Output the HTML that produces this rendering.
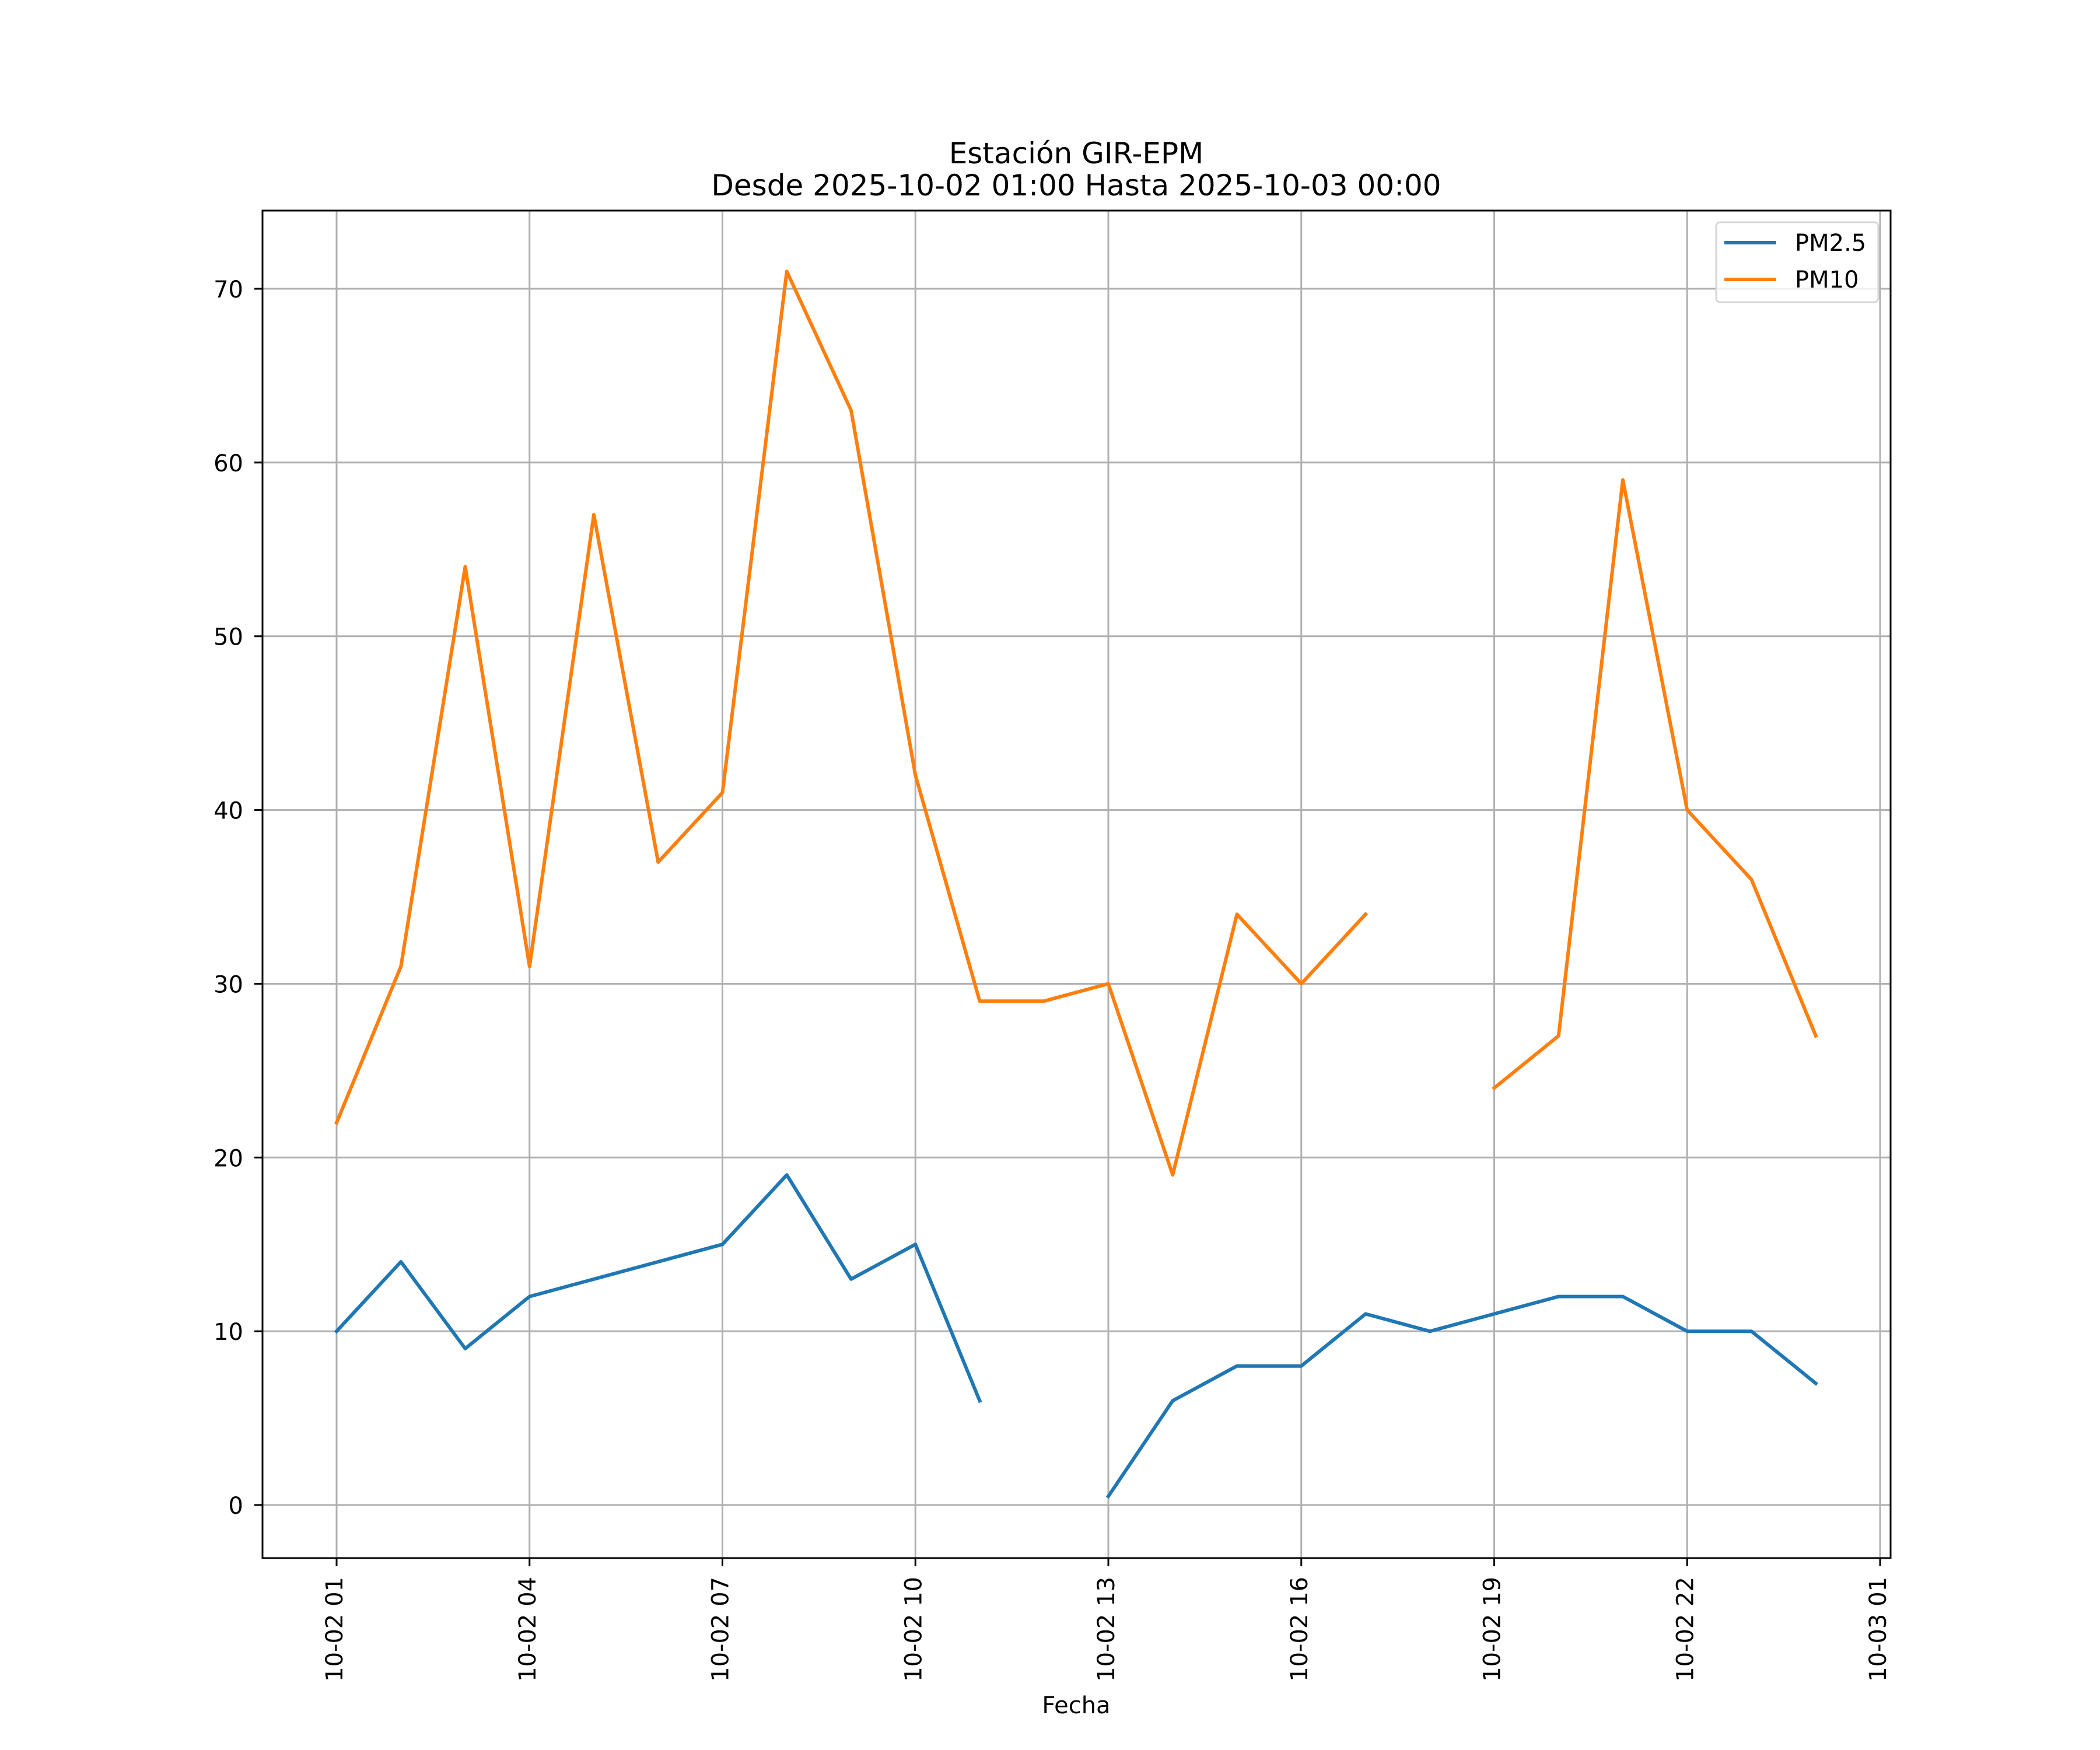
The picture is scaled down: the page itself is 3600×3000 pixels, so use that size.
<!DOCTYPE html>
<html><head><meta charset="utf-8"><style>
html,body{margin:0;padding:0;background:#fff;}
svg{display:block;font-family:"DejaVu Sans","Liberation Sans",sans-serif;}
</style></head><body>
<svg id="chart" width="3600" height="3000" viewBox="0 0 3600 3000" xmlns="http://www.w3.org/2000/svg">
<rect width="3600" height="3000" fill="#fff"/>
<text x="1845" y="280" font-size="50" text-anchor="middle">Estación GIR-EPM</text>
<text x="1845" y="335" font-size="50" text-anchor="middle">Desde 2025-10-02 01:00 Hasta 2025-10-03 00:00</text>
<g id="grid"></g><g id="series"></g><g id="axes"></g>
<text x="1845" y="2937" font-size="40" text-anchor="middle">Fecha</text>
<g>
<rect x="2942" y="381" width="278" height="137" fill="#fff" fill-opacity="0.8" stroke="#d6d6d6" stroke-width="3" rx="7"/>
<line x1="2956" y1="416" x2="3045" y2="416" stroke="#1f77b4" stroke-width="6"/>
<text x="3077" y="430" font-size="40">PM2.5</text>
<line x1="2956" y1="479" x2="3045" y2="479" stroke="#ff7f0e" stroke-width="6"/>
<text x="3077" y="493" font-size="40">PM10</text>
</g>
</svg>
<script>
const hours = [1,2,3,4,5,6,7,8,9,10,11,12,13,14,15,16,17,18,19,20,21,22,23,24];
const pm25 = [10,14,9,12,13,14,15,19,13,15,6,null,0.5,6,8,8,11,10,11,12,12,10,10,7];
const pm10 = [22,31,54,31,57,37,41,71,63,42,29,29,30,19,34,30,34,null,24,27,59,40,36,27];
const yTicks = [0,10,20,30,40,50,60,70];
const xTickHours = [1,4,7,10,13,16,19,22,25];
const xTickLabels = ["10-02 01","10-02 04","10-02 07","10-02 10","10-02 13","10-02 16","10-02 19","10-02 22","10-03 01"];

const L=450,R=3241,T=361,B=2671;
const xMin=-0.152,xMax=25.163,yMin=-3.055,yMax=74.50;
const xs=h=>L+(h-xMin)/(xMax-xMin)*(R-L);
const ys=v=>B-(v-yMin)/(yMax-yMin)*(B-T);
const NS="http://www.w3.org/2000/svg";
function mk(tag,attrs,parent){const e=document.createElementNS(NS,tag);for(const k in attrs)e.setAttribute(k,attrs[k]);parent.appendChild(e);return e;}
const grid=document.getElementById('grid'),axes=document.getElementById('axes'),series=document.getElementById('series');

yTicks.forEach(v=>{
  const y=ys(v);
  const g=mk('line',{x1:L,x2:R,y1:y,y2:y,stroke:'#b0b0b0','stroke-width':3},grid);
  
  
  const t=mk('line',{x1:L-14,x2:L,y1:y,y2:y,stroke:'#000','stroke-width':3},axes);
  
  
  const tx=mk('text',{x:L-33,y:y+15,'font-size':40,'text-anchor':'end'},axes);
  tx.textContent=v;
  
  
});
xTickHours.forEach((h,i)=>{
  const x=xs(h);
  const g=mk('line',{x1:x,x2:x,y1:T,y2:B,stroke:'#b0b0b0','stroke-width':3},grid);
  
  
  const t=mk('line',{x1:x,x2:x,y1:B,y2:B+14,stroke:'#000','stroke-width':3},axes);
  
  
  const tx=mk('text',{x:0,y:0,'font-size':40,'text-anchor':'end',transform:`translate(${x+10},${B+32}) rotate(-90)`},axes);
  tx.textContent=xTickLabels[i];
  
  
});
const frame=mk('rect',{x:L,y:T,width:R-L,height:B-T,fill:'none',stroke:'#000','stroke-width':3},axes);



function drawSeries(vals,color,name){
  let d='',pen=false;
  vals.forEach((v,i)=>{
    if(v===null){pen=false;return;}
    d+=(pen?'L':'M')+xs(hours[i]).toFixed(1)+' '+ys(v).toFixed(1)+' ';
    pen=true;
  });
  const p=mk('path',{d:d,fill:'none',stroke:color,'stroke-width':6,'stroke-linejoin':'round','stroke-linecap':'square'},series);
  
  
}
drawSeries(pm25,'#1f77b4','pm25-line');
drawSeries(pm10,'#ff7f0e','pm10-line');
</script>
</body></html>
